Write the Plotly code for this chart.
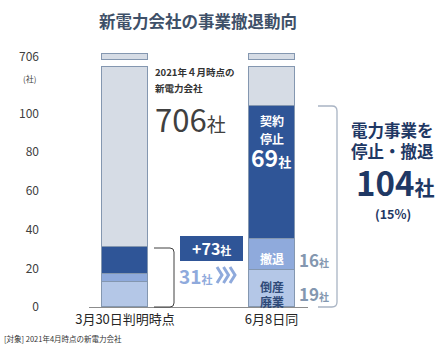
import plotly.graph_objects as go

# ---- data ----
categories = ["3月30日判明時点", "6月8日同"]
bankrupt = [13, 19]      # 倒産・廃業
withdraw = [4, 16]       # 撤退
suspend = [14, 69]       # 契約停止
total_companies = 706
y_tick_vals = [0, 20, 40, 60, 80, 100]
added = 73
share_pct = 15

totals = [b + w + s for b, w, s in zip(bankrupt, withdraw, suspend)]
others = [total_companies - t for t in totals]

# broken-axis display
BREAK_LO, BREAK_GAP, CAP = 124.0, 3.8, 2.8
other_lower = [BREAK_LO - t for t in totals]
gap = [BREAK_GAP] * 2
cap = [CAP] * 2
top_val = BREAK_LO + BREAK_GAP + CAP

FONT = "Noto Sans CJK JP"
W, H = 443, 352
L, R, T, B = 89, 135, 40, 45
PW, PH = W - L - R, H - T - B
YMAX = 138
XR = [-0.2457, 1.249]

def px(x):  # pixel -> paper x
    return (x - L) / PW

def py(y):  # pixel -> paper y
    return (H - B - y) / PH

fig = go.Figure()
edge = dict(color="#8497b0", width=1)
def add(vals, color, name, line=edge):
    fig.add_trace(go.Bar(x=categories, y=vals, width=0.314, name=name,
                         marker=dict(color=color, line=line), hoverinfo="skip"))

add(bankrupt, "#b4c7e7", "倒産廃業")
add(withdraw, "#8faadc", "撤退")
add(suspend, "#2f5597", "契約停止")
add(other_lower, "#d6dce5", "その他")
add(gap, "rgba(0,0,0,0)", "gap", line=dict(width=0))
add(cap, "#d6dce5", "その他2")

ann = []
def A(x, y, text, size, color, xanchor="center", bold=False):
    if bold:
        text = "<b>" + text + "</b>"
    ann.append(dict(x=x, y=y, xref="paper", yref="paper", text=text, showarrow=False,
                    xanchor=xanchor, yanchor="middle",
                    font=dict(family=FONT, size=size, color=color)))

# title
A(px(198), py(21), "新電力会社の事業撤退動向", 16.5, "#3e5068", bold=True)
# (社)
A(px(29), py(78), "(社)", 8, "#404040")
# 706 note
A(px(153), py(72), "2021年４月時点の", 9.5, "#333333", xanchor="left", bold=True)
A(px(153), py(88), "新電力会社", 9.5, "#333333", xanchor="left", bold=True)
A(px(153), py(118), f"<span style='font-size:31px'>{total_companies}</span><span style='font-size:19px'>社</span>",
  31, "#404040", xanchor="left")
# bar 2 labels
A(px(272), py(121), "契約", 12, "white", bold=True)
A(px(272), py(138), "停止", 12, "white", bold=True)
A(px(271), py(157), f"<span style='font-size:23px'>{suspend[1]}</span><span style='font-size:13px'>社</span>",
  23, "white", bold=True)
A(px(272), py(258), "撤退", 12, "white", bold=True)
A(px(272), py(286), "倒産", 12, "#2f4a78", bold=True)
A(px(272), py(301), "廃業", 12, "#2f4a78", bold=True)
A(px(297), py(259), f"<span style='font-size:17px'>{withdraw[1]}</span><span style='font-size:10px'>社</span>",
  17, "#8497b0", xanchor="left", bold=True)
A(px(297), py(293), f"<span style='font-size:17px'>{bankrupt[1]}</span><span style='font-size:10px'>社</span>",
  17, "#8497b0", xanchor="left", bold=True)
# right summary
A(px(392), py(130), "電力事業を", 16.5, "#1f3864", bold=True)
A(px(392), py(151), "停止・撤退", 16.5, "#1f3864", bold=True)
A(px(395), py(182), f"<span style='font-size:33px'>{totals[1]}</span><span style='font-size:20px'>社</span>",
  33, "#1f3864", bold=True)
A(px(393), py(213), f"({share_pct}%)", 12.5, "#1f3864", bold=True)
# +73 and 31
A(px(211.5), py(248), f"<span style='font-size:16px'>+{added}</span><span style='font-size:11px'>社</span>",
  16, "white", bold=True)
A(px(195), py(275), f"<span style='font-size:19px'>{totals[0]}</span><span style='font-size:11px'>社</span>",
  19, "#8faadc", bold=True)
# footnote
A(px(2), py(338), "[対象] 2021年4月時点の新電力会社", 7.5, "#333333", xanchor="left")

shapes = []
# +73 box
shapes.append(dict(type="rect", xref="paper", yref="paper", x0=px(180), x1=px(243),
                   y0=py(261), y1=py(236), fillcolor="#2f5597", line=dict(width=0)))
# chevrons
for i in range(3):
    x0 = 217 + 6.5 * i
    shapes.append(dict(type="path", xref="paper", yref="paper",
                       path=f"M {px(x0)},{py(267)} L {px(x0 + 5)},{py(275)} L {px(x0)},{py(283)}",
                       line=dict(color="#8faadc", width=3)))
# brackets
def bracket(xl, xr, ytop, ybot, r, color, width):
    return dict(type="path", xref="paper", yref="paper",
                path=(f"M {px(xl)},{py(ytop)} L {px(xr - r)},{py(ytop)} "
                      f"Q {px(xr)},{py(ytop)} {px(xr)},{py(ytop + r)} "
                      f"L {px(xr)},{py(ybot - r)} Q {px(xr)},{py(ybot)} {px(xr - r)},{py(ybot)} "
                      f"L {px(xl)},{py(ybot)}"),
                line=dict(color=color, width=width))
shapes.append(bracket(154, 174, 248, 307, 4, "#404040", 1))
shapes.append(bracket(318, 337, 106, 307, 5, "#a9b4c4", 1.3))

fig.update_layout(
    width=W, height=H, margin=dict(l=L, r=R, t=T, b=B),
    barmode="stack", showlegend=False, bargap=0,
    plot_bgcolor="white", paper_bgcolor="white",
    annotations=ann, shapes=shapes,
    xaxis=dict(type="category", range=XR, showgrid=False, showline=True,
               linecolor="#8c8c8c", linewidth=1, ticks="", zeroline=False,
               tickfont=dict(family=FONT, size=13, color="#262626")),
    yaxis=dict(range=[0, YMAX], showgrid=False, zeroline=False, showline=False,
               tickvals=y_tick_vals + [top_val - 1.2],
               ticktext=[str(v) for v in y_tick_vals] + [str(total_companies)],
               ticklabelstandoff=49, ticks="",
               tickfont=dict(family=FONT, size=12, color="#404040")),
)

fig.write_html("out.html")
